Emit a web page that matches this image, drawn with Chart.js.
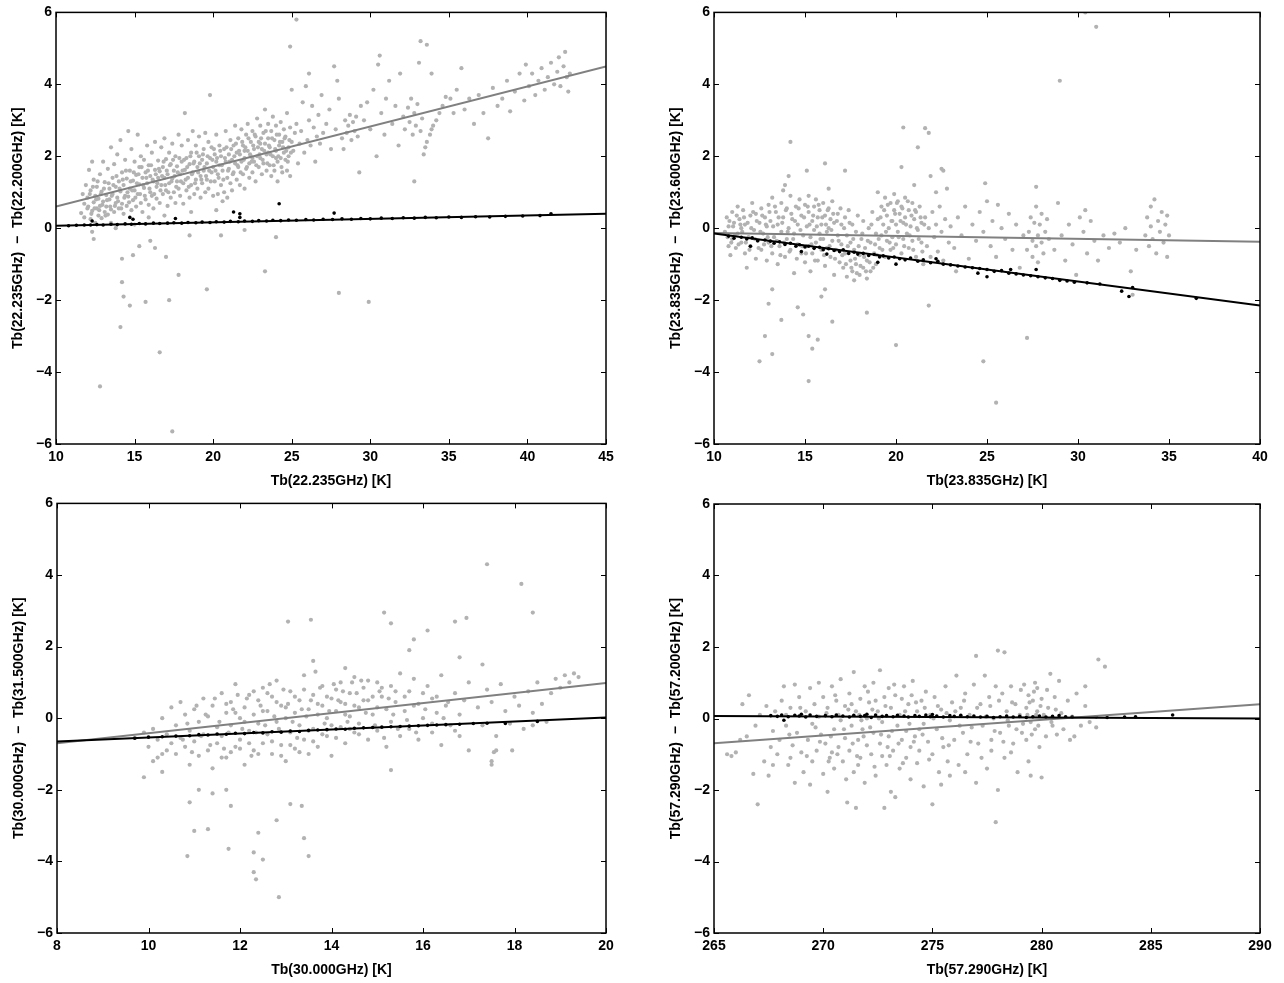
<!DOCTYPE html>
<html>
<head>
<meta charset="utf-8">
<script src="https://cdn.jsdelivr.net/npm/chart.js@4.4.1/dist/chart.umd.min.js"></script>
<style>
  html, body { margin: 0; padding: 0; background: #fff; }
  #wrap { position: relative; width: 1284px; height: 983px; }
  #wrap canvas { position: absolute; }
</style>
</head>
<body>
<div id="wrap">
  <canvas id="tl" width="642" height="492" style="left:0;top:0"></canvas>
  <canvas id="tr" width="642" height="492" style="left:642px;top:0"></canvas>
  <canvas id="bl" width="642" height="492" style="left:0;top:491px"></canvas>
  <canvas id="br" width="642" height="492" style="left:642px;top:491px"></canvas>
</div>
<script>
// ---- data ----
const yTicks = [-6, -4, -2, 0, 2, 4, 6];
const tlXTicks = [10, 15, 20, 25, 30, 35, 40, 45];
const trXTicks = [10, 15, 20, 25, 30, 35, 40];
const blXTicks = [8, 10, 12, 14, 16, 18, 20];
const brXTicks = [265, 270, 275, 280, 285, 290];

const tlXTitle = 'Tb(22.235GHz) [K]';
const tlYTitle = 'Tb(22.235GHz)  \u2212  Tb(22.200GHz) [K]';
const trXTitle = 'Tb(23.835GHz) [K]';
const trYTitle = 'Tb(23.835GHz)  \u2212  Tb(23.600GHz) [K]';
const blXTitle = 'Tb(30.000GHz) [K]';
const blYTitle = 'Tb(30.000GHz)  \u2212  Tb(31.500GHz) [K]';
const brXTitle = 'Tb(57.290GHz) [K]';
const brYTitle = 'Tb(57.290GHz)  \u2212  Tb(57.200GHz) [K]';

// fitted lines (end points)
const tlGrayFit = [[10, 0.6], [45, 4.5]];
const tlBlackFit = [[10, 0.07], [45, 0.4]];
const trGrayFit = [[10, -0.13], [40, -0.38]];
const trBlackFit = [[10, -0.15], [40, -2.15]];
const blGrayFit = [[8, -0.7], [20, 0.98]];
const blBlackFit = [[8, -0.65], [20, 0.02]];
const brGrayFit = [[265, -0.69], [290, 0.4]];
const brBlackFit = [[265, 0.07], [290, 0.0]];

const tlGray = [
[11.6,0.42],[11.7,0.95],[11.8,0.3],[11.9,1.2],[11.8,0.68],[12.0,0.55],[12.1,1.62],[12.0,0.85],[12.2,0.25],[12.2,1.05],[12.3,1.85],[12.3,0.48],[12.4,0.72],[12.4,1.35],[12.5,0.9],[12.5,0.15],[12.3,-0.1],[12.4,-0.3],
[12.6,0.55],[12.6,1.15],[12.7,0.35],[12.7,0.82],[12.8,1.5],[12.8,0.62],[12.9,0.28],[12.9,1.02],[13.0,0.74],[13.0,1.85],[13.1,0.45],[13.1,1.28],[13.2,0.92],[13.2,0.6],[13.3,1.65],[13.3,0.38],[13.4,1.1],[13.4,0.8],[13.5,2.25],[13.5,0.52],
[13.6,0.95],[13.6,1.4],[13.7,0.45],[13.7,1.78],[13.8,0.7],[13.8,1.15],[13.9,2.05],[13.9,0.85],[14.0,0.55],[14.0,1.3],[14.1,1.02],[14.1,2.45],[14.2,0.68],[14.2,1.55],[14.3,0.4],[14.3,1.2],[14.4,0.9],[14.4,1.9],[14.5,1.38],[14.5,0.62],[14.6,2.7],
[14.6,0.88],[14.7,1.6],[14.7,1.1],[14.8,0.5],[14.8,2.2],[14.9,1.32],[14.9,0.78],[15.0,1.85],[15.0,1.05],[15.1,0.6],[15.1,1.48],[15.2,2.6],[15.2,0.95],[15.3,1.22],[15.3,1.7],[15.4,0.7],[15.4,2.0],[15.5,1.4],[15.5,0.45],
[15.6,1.12],[15.6,1.9],[15.7,0.8],[15.7,1.55],[15.8,2.3],[15.8,1.25],[15.9,0.65],[15.9,1.75],[16.0,1.0],[16.0,1.45],[16.1,2.1],[16.1,0.9],[16.2,1.3],[16.2,0.55],[16.3,1.62],[16.3,2.4],[16.4,1.15],[16.4,0.82],[16.5,1.88],[16.5,1.4],
[16.6,0.7],[16.6,1.58],[16.7,2.25],[16.7,1.2],[16.8,0.95],[16.8,1.7],[16.9,1.4],[16.9,2.5],[17.0,1.05],[17.0,1.92],[17.1,0.62],[17.1,1.5],[17.2,1.25],[17.2,2.1],[17.3,0.85],[17.3,1.78],[17.4,1.38],[17.4,2.35],[17.5,1.6],[17.5,1.0],
[17.6,0.7],[17.6,2.0],[17.7,1.3],[17.7,1.72],[17.8,2.6],[17.8,1.1],[17.9,1.5],[17.9,0.9],[18.0,1.85],[18.0,2.3],[18.1,1.25],[18.1,0.68],[18.2,3.2],[18.2,1.62],[18.3,1.95],[18.3,1.05],[18.4,2.45],[18.4,1.4],[18.5,1.78],[18.5,0.85],
[18.6,1.2],[18.6,2.1],[18.7,1.55],[18.7,2.7],[18.8,0.95],[18.8,1.85],[18.9,1.35],[18.9,2.3],[19.0,1.7],[19.0,1.1],[19.1,2.0],[19.1,2.55],[19.2,1.45],[19.2,0.85],[19.3,1.9],[19.3,1.25],[19.4,2.2],[19.4,1.6],[19.5,1.0],[19.5,2.65],
[19.6,1.8],[19.6,1.35],[19.7,2.4],[19.7,1.1],[19.8,3.7],[19.8,1.95],[19.9,1.55],[19.9,2.25],[20.0,0.9],[20.0,1.7],[20.1,2.05],[20.1,1.3],[20.2,2.6],[20.2,1.85],[20.3,1.5],[20.3,0.95],[20.4,2.3],[20.4,1.75],[20.5,1.2],[20.5,2.0],
[20.6,0.75],[20.6,1.6],[20.7,2.2],[20.7,1.0],[20.8,1.85],[20.8,2.7],[20.9,1.4],[20.9,0.85],[21.0,2.05],[21.0,1.65],[21.1,1.25],[21.1,2.45],[21.2,1.9],[21.2,1.05],[21.3,2.3],[21.3,1.55],[21.4,1.8],[21.4,2.85],[21.5,1.35],[21.5,2.1],
[21.6,1.7],[21.6,2.5],[21.7,1.2],[21.7,2.05],[21.8,1.85],[21.8,2.75],[21.9,1.5],[21.9,2.3],[22.0,1.95],[22.0,1.1],[22.1,2.6],[22.1,1.65],[22.2,2.15],[22.2,2.9],[22.3,1.8],[22.3,1.4],[22.4,2.4],[22.4,2.0],[22.5,1.55],[22.5,2.7],
[22.6,2.2],[22.6,1.85],[22.7,2.55],[22.7,1.3],[22.8,2.0],[22.8,3.05],[22.9,1.7],[22.9,2.4],[23.0,2.85],[23.0,1.95],[23.1,2.2],[23.1,1.5],[23.2,2.65],[23.2,1.8],[23.3,2.35],[23.3,3.3],[23.4,2.05],[23.4,1.6],[23.5,2.5],[23.5,2.9],
[23.6,1.75],[23.6,2.25],[23.7,2.7],[23.7,1.45],[23.8,2.0],[23.8,3.1],[23.9,2.45],[23.9,1.6],[24.0,2.15],[24.0,2.85],[24.1,1.85],[24.1,1.3],[24.2,2.6],[24.2,2.3],[24.3,1.95],[24.3,2.95],[24.4,1.55],[24.4,2.4],[24.5,2.1],[24.5,2.75],
[24.6,1.9],[24.6,2.55],[24.7,1.6],[24.7,3.2],[24.8,2.25],[24.8,2.0],[24.9,2.8],[24.9,1.45],[25.0,2.4],[25.0,3.85],[25.1,2.15],[25.2,2.65],[25.3,2.9],[25.4,1.8],[25.5,2.35],
[25.6,2.7],[25.7,3.5],[25.8,2.1],[25.9,3.95],[26.0,2.45],[26.1,4.3],[26.1,3.0],[26.2,2.3],[26.3,3.4],[26.4,2.8],[26.5,1.85],[26.6,2.55],[26.7,3.15],[26.8,2.35],[26.9,3.7],[27.0,2.65],
[27.2,2.9],[27.4,3.3],[27.5,2.2],[27.7,4.5],[27.8,2.75],[28.0,3.6],[28.2,2.5],[28.4,3.0],[28.5,2.65],[28.6,2.85],[28.7,3.15],[28.8,2.45],[28.9,2.95],[29.0,2.7],[29.1,3.1],[29.2,2.55],[29.3,1.55],[29.4,3.4],[28.3,2.2],[27.9,4.1],
[29.6,3.0],[29.8,3.5],[30.0,2.75],[30.2,3.85],[30.4,2.0],[30.5,4.55],[30.7,3.2],[30.9,2.6],[31.0,3.6],[31.2,4.1],[31.4,2.9],[31.6,3.4],[31.8,2.3],[31.9,4.3],
[32.1,3.1],[32.2,2.75],[32.4,3.35],[32.5,2.95],[32.6,3.6],[32.7,2.6],[32.8,3.2],[32.9,2.85],[33.0,3.45],[33.1,4.6],[33.2,2.7],[33.3,3.05],[33.4,2.05],[33.5,2.25],[33.6,2.4],[33.8,2.6],[33.9,2.75],[34.0,2.85],[34.2,3.0],[34.4,3.2],[34.6,3.4],[34.8,3.65],[32.8,1.3],[33.9,4.3],
[35.1,3.6],[35.3,3.2],[35.5,3.85],[35.8,4.45],[36.0,3.3],[36.3,3.6],[36.6,2.9],[36.9,3.7],[37.2,3.2],[37.5,2.5],[37.8,3.9],[38.1,3.4],
[38.4,3.6],[38.7,4.1],[38.9,3.25],[39.2,3.8],[39.5,4.3],[39.8,3.55],[39.9,4.55],[40.1,3.95],[40.3,4.3],[40.5,3.7],
[40.7,4.1],[40.9,4.45],[41.1,3.85],[41.3,4.2],[41.5,4.6],[41.7,4.0],[41.9,4.35],[42.0,4.75],[42.1,3.95],[42.3,4.5],[42.4,4.9],[42.5,4.2],[42.6,3.8],[42.7,4.3],
[12.8,-4.4],[14.1,-2.75],[14.2,-1.5],[14.2,-0.85],[14.3,-1.9],[14.7,-2.15],[15.7,-2.05],[16.6,-3.45],[17.0,-0.8],[17.4,-5.65],[17.2,-2.0],[17.8,-1.3],[19.6,-1.7],[23.3,-1.2],[24.0,-0.25],[28.0,-1.8],[29.9,-2.05],
[25.3,5.8],[24.9,5.05],[33.2,5.2],[33.6,5.1],[30.6,4.8],[15.3,-0.5],[16.0,-0.35],[18.5,-0.2],[20.5,-0.2],[13.8,0.0],[15.0,0.1],[22.0,-0.05],[14.9,-0.75],[16.3,-0.55],
[13.5,0.15],[15.9,0.3],[16.9,0.35],[18.6,0.45],[20.2,0.5]
];
// extra points in the densest part of the cloud
const tlGrayDense = [
[12.05,0.6],[12.15,0.95],[12.25,0.4],[12.35,1.15],[12.45,0.55],[12.55,0.8],[12.65,1.3],[12.75,0.5],[12.85,0.95],[12.95,0.65],[13.05,1.1],[13.15,0.35],[13.25,0.78],[13.35,1.25],[13.45,0.6],[13.55,0.9],[13.65,1.2],[13.75,0.62],[13.85,1.45],[13.95,0.75],
[14.05,1.1],[14.15,0.55],[14.25,1.35],[14.35,0.85],[14.45,1.6],[14.55,1.0],[14.65,0.72],[14.75,1.3],[14.85,1.05],[14.95,1.55],[15.05,0.85],[15.15,1.25],[15.25,1.5],[15.35,0.95],[15.45,1.7],[15.55,1.2],[15.65,0.9],[15.75,1.4],[15.85,1.6],[15.95,1.1],
[16.05,1.75],[16.15,1.35],[16.25,0.95],[16.35,1.5],[16.45,1.25],[16.55,1.65],[16.65,1.05],[16.75,1.45],[16.85,1.85],[16.95,1.2],[17.05,1.6],[17.15,1.0],[17.25,1.75],[17.35,1.3],[17.45,1.9],[17.55,1.45],[17.65,1.15],[17.75,1.55],[17.85,1.95],[17.95,1.3],
[18.05,1.6],[18.15,1.9],[18.25,1.35],[18.35,1.7],[18.45,1.15],[18.55,2.0],[18.65,1.5],[18.75,1.8],[18.85,1.25],[18.95,2.1],[19.05,1.55],[19.15,1.8],[19.25,1.35],[19.35,2.05],[19.45,1.7],[19.55,1.45],[19.65,2.0],[19.75,1.6],[19.85,1.3],[19.95,1.9],
[20.05,2.2],[20.15,1.6],[20.25,1.95],[20.35,1.4],[20.45,2.15],[20.55,1.75],[20.65,1.35],[20.75,1.95],[20.85,2.25],[20.95,1.6],[21.05,1.85],[21.15,2.2],[21.25,1.5],[21.35,2.0],[21.45,2.35],[21.55,1.75],[21.65,2.15],[21.75,1.55],[21.85,2.4],[21.95,1.9],
[22.05,2.25],[22.15,1.7],[22.25,2.5],[22.35,2.05],[22.45,1.85],[22.55,2.3],[22.65,2.6],[22.75,1.75],[22.85,2.25],[22.95,2.05],[23.05,2.5],[23.15,1.9],[23.25,2.15],[23.35,2.7],[23.45,1.8],[23.55,2.3],[23.65,2.05],[23.75,2.5],[23.85,1.75],[23.95,2.2],
[24.05,2.6],[24.15,2.0],[24.25,2.4],[24.35,1.7],[24.45,2.25],[24.55,2.5],[24.65,2.15],[24.75,1.85],[24.85,2.45],[24.95,2.1],[22.5,1.95],[23.0,2.35],[23.5,2.1],[24.0,1.95],[22.0,2.15]
];
const tlBlack = [
[10.8,0.07],[11.3,0.08],[11.8,0.09],[12.2,0.09],[12.6,0.1],[13.0,0.09],[13.5,0.11],[13.9,0.1],[14.4,0.12],[14.8,0.11],[15.3,0.13],[15.7,0.12],[16.2,0.14],[16.6,0.13],[17.1,0.14],[17.5,0.15],[18.0,0.14],[18.4,0.16],[18.9,0.15],[19.3,0.17],[19.8,0.16],[20.2,0.18],[20.7,0.17],[21.1,0.19],[21.6,0.18],[22.0,0.2],[22.5,0.19],[22.9,0.21],[23.4,0.2],[23.8,0.22],[24.3,0.21],[24.8,0.23],[25.3,0.22],[25.9,0.24],[26.4,0.23],[27.0,0.25],[27.6,0.24],[28.2,0.26],[28.8,0.25],[29.4,0.27],[30.0,0.26],[30.7,0.28],[31.4,0.27],[32.1,0.29],[32.8,0.28],[33.5,0.3],[34.2,0.29],[35.0,0.31],[35.8,0.3],[36.7,0.32],[37.6,0.31],[38.6,0.33],[39.7,0.34],[40.8,0.35],[41.5,0.4],
[12.3,0.2],[14.7,0.3],[14.9,0.25],[17.6,0.27],[21.3,0.45],[21.7,0.4],[21.7,0.3],[24.2,0.68],[27.7,0.42]
];

const trGray = [
[10.6,-0.1],[10.7,0.3],[10.8,-0.5],[10.8,0.05],[10.9,-0.75],[11.0,0.45],[11.0,-0.3],[11.1,0.15],[11.2,-0.55],[11.3,0.6],[11.3,-0.15],[11.4,0.25],[11.5,-0.4],[11.5,0.0],
[11.6,0.5],[11.7,-0.7],[11.7,0.1],[11.8,-1.1],[11.9,-0.25],[12.0,0.35],[12.0,-0.5],[12.1,0.7],[12.2,-0.05],[12.3,-0.85],[12.3,0.4],[12.4,-0.35],[12.5,0.15],[12.6,-0.6],[12.6,0.55],[12.7,-0.15],[12.8,0.3],[12.9,-0.9],[12.9,0.05],[13.0,-0.4],[13.0,0.65],
[13.1,0.2],[13.2,-0.7],[13.2,0.85],[13.3,-0.25],[13.4,0.45],[13.5,-1.0],[13.5,0.1],[13.6,-0.5],[13.7,0.7],[13.7,-0.1],[13.8,1.05],[13.8,0.3],[13.9,-0.8],[14.0,-0.3],[14.0,0.55],[14.1,0.0],[14.2,-0.6],[14.2,0.9],[14.3,0.25],[14.4,-0.15],[14.4,-1.25],[14.5,0.6],[14.6,-0.45],[14.6,0.1],[14.7,0.8],[14.8,-0.7],[14.8,0.35],[14.9,-0.2],[15.0,0.65],[15.0,-0.95],
[15.1,0.05],[15.1,-0.5],[15.2,0.45],[15.2,0.9],[15.3,-0.25],[15.3,-1.2],[15.4,0.2],[15.4,-0.7],[15.5,0.6],[15.5,-0.05],[15.6,-0.4],[15.6,0.8],[15.7,0.3],[15.7,-0.9],[15.8,-0.15],[15.8,0.5],[15.9,-0.6],[15.9,0.1],[16.0,0.7],[16.0,-0.3],[16.1,-1.05],[16.1,0.35],[16.2,-0.1],[16.2,-0.55],[16.3,0.55],[16.3,0.0],[16.4,-0.8],[16.4,0.25],[16.5,-0.35],[16.5,0.75],[16.6,-1.3],[16.6,0.15],[16.7,-0.6],[16.8,0.4],[16.8,-0.2],[16.9,-0.95],[17.0,0.1],[17.0,-0.45],
[17.1,-1.1],[17.2,0.3],[17.2,-0.7],[17.3,-1.35],[17.3,-0.2],[17.4,0.5],[17.5,-0.9],[17.5,-0.4],[17.6,-1.2],[17.6,0.1],[17.7,-0.6],[17.7,-1.45],[17.8,-0.1],[17.8,-1.0],[17.9,0.35],[18.0,-0.75],[18.0,-1.3],[18.1,-0.3],[18.2,-1.1],[18.2,0.2],[18.3,-0.55],[18.4,-1.4],[18.4,-0.9],[18.5,0.0],[18.6,-0.4],[18.6,-1.2],[18.7,0.45],[18.8,-0.7],[18.9,-0.15],[18.9,-1.0],[19.0,0.25],
[19.1,-0.55],[19.2,0.6],[19.2,-0.2],[19.3,0.1],[19.4,-0.8],[19.4,0.85],[19.5,-0.35],[19.5,0.35],[19.6,0.0],[19.7,0.7],[19.7,-0.6],[19.8,0.2],[19.8,-0.25],[19.9,0.95],[19.9,0.5],[20.0,-0.45],[20.0,0.1],[20.1,0.75],[20.1,-0.1],[20.2,0.4],[20.3,-0.7],[20.3,0.6],[20.4,0.15],[20.4,-0.3],[20.5,0.85],[20.5,0.3],[20.6,-0.15],[20.7,0.5],[20.7,-0.55],[20.8,0.05],[20.9,0.7],[20.9,-0.35],[21.0,0.25],[21.1,-0.8],[21.1,0.45],[21.2,-0.05],[21.3,0.6],[21.4,-0.4],[21.4,0.15],[21.5,-1.0],
[21.6,0.3],[21.7,-0.5],[21.8,0.0],[21.8,-2.15],[21.9,-0.8],[22.0,0.45],[22.1,-0.25],[22.2,0.1],[22.3,-0.65],[22.4,0.6],[22.5,-0.1],[22.6,1.6],[22.6,-0.9],[22.7,0.25],[22.8,1.1],[22.9,-0.4],[23.0,0.05],[22.2,1.0],[21.9,1.45],
[23.2,-0.55],[23.4,0.3],[23.6,-0.2],[23.8,0.6],[24.0,-0.85],[24.2,0.1],[24.4,-0.35],[24.6,0.45],[24.8,-0.1],[25.0,0.75],[25.2,-0.5],[25.3,0.2],[25.5,-0.8],[25.6,0.65],[25.8,0.0],[26.0,-0.3],[26.2,0.4],[26.4,-0.6],[26.6,0.1],[26.8,-1.1],[27.0,-0.2],[24.9,1.25],[23.3,-1.2],
[27.2,-0.6],[27.3,-0.1],[27.4,0.3],[27.5,-0.8],[27.5,-0.35],[27.6,0.15],[27.7,-0.5],[27.7,0.6],[27.8,-0.2],[27.8,-0.95],[27.9,0.1],[28.0,-0.4],[28.0,0.4],[28.1,-0.7],[28.2,-0.1],[28.3,0.25],[27.7,1.15],[28.4,-0.3],
[28.7,-0.6],[28.9,0.7],[29.1,-0.2],[29.3,-0.9],[29.5,0.1],[29.7,-0.45],[29.9,-1.3],[30.1,0.3],[30.3,-0.1],[30.5,-0.7],[30.7,0.2],[30.9,-0.35],[31.1,-0.9],[31.4,-0.2],[31.7,-0.55],[32.0,-0.15],[32.3,-0.4],[32.6,0.0],[32.9,-1.2],[33.2,-0.6],[30.4,0.5],
[33.7,-0.2],[33.8,0.3],[33.9,-0.5],[34.0,0.6],[34.0,0.05],[34.1,-0.3],[34.2,0.8],[34.3,-0.7],[34.4,0.2],[34.5,-0.1],[34.6,0.45],[34.7,-0.4],[34.8,0.1],[34.9,0.35],[35.0,-0.2],[34.9,-0.8],
[13.0,-2.1],[13.2,-1.7],[12.8,-3.0],[12.5,-3.7],[13.2,-3.5],[13.7,-2.55],[14.2,2.4],[15.2,-3.0],[15.2,-4.25],[15.4,-3.35],[15.7,-3.1],[16.1,1.8],[16.5,-2.6],[17.2,1.6],[20.4,2.8],[21.6,2.78],[21.2,2.25],[21.8,2.65],[20.3,1.7],[20.0,-3.25],[22.5,1.65],[24.8,-3.7],[25.5,-4.85],[27.2,-3.05],[29.0,4.1],[30.4,6.0],[31.0,5.6],[33.0,-1.85],
[14.6,-2.2],[14.9,-2.4],[15.9,-1.9],[16.1,-1.7],[18.4,-2.35],[15.1,1.6],[14.1,1.45],[13.9,1.2],[16.3,1.1],[19.0,1.0],[21.0,1.2]
];
const trGrayDense = [
[10.75,-0.25],[10.85,0.2],[10.95,-0.4],[11.05,0.05],[11.15,-0.2],[11.25,0.35],[11.35,-0.45],[11.45,0.1],[11.55,-0.1],[11.65,0.3],[11.75,-0.4],[11.85,0.15],[11.95,-0.6],[12.05,0.0],[12.15,0.45],[12.25,-0.3],[12.35,0.2],[12.45,-0.55],[12.55,-0.1],[12.65,0.35],
[12.75,-0.45],[12.85,0.1],[12.95,-0.25],[13.05,0.45],[13.15,-0.5],[13.25,0.05],[13.35,0.6],[13.45,-0.35],[13.55,0.3],[13.65,-0.75],[13.75,0.15],[13.85,-0.4],[13.95,0.5],[14.05,-0.1],[14.15,-0.65],[14.25,0.4],[14.35,-0.3],[14.45,0.2],[14.55,-0.85],[14.65,0.55],
[14.75,-0.05],[14.85,-0.5],[14.95,0.3],[15.05,-0.7],[15.15,0.6],[15.25,0.1],[15.35,-0.45],[15.45,0.35],[15.55,-0.9],[15.65,0.05],[15.75,0.65],[15.85,-0.3],[15.95,0.3],[16.05,-0.75],[16.15,0.1],[16.25,0.5],[16.35,-0.5],[16.45,-0.05],[16.55,0.4],[16.65,-0.85],
[16.75,0.2],[16.85,-0.35],[16.95,0.55],[17.05,-0.75],[17.15,0.0],[17.25,-1.0],[17.35,-0.5],[17.45,0.15],[17.55,-1.1],[17.65,-0.3],[17.75,-0.85],[17.85,-1.25],[17.95,-0.5],[18.05,-1.05],[18.15,-0.15],[18.25,-0.8],[18.35,-1.2],[18.45,-0.35],[18.55,-0.95],[18.65,0.1],
[18.75,-1.1],[18.85,-0.45],[18.95,-0.75],[19.05,-0.3],[19.15,0.3],[19.25,-0.6],[19.35,0.5],[19.45,-0.1],[19.55,0.65],[19.65,-0.4],[19.75,0.2],[19.85,-0.55],[19.95,0.4],[20.05,0.7],[20.15,-0.25],[20.25,0.2],[20.35,0.55],[20.45,-0.5],[20.55,0.1],[20.65,0.75],
[20.75,-0.2],[20.85,0.35],[20.95,-0.6],[21.05,0.5],[21.15,0.0],[21.25,-0.3],[21.35,0.3],[21.45,-0.65],[21.55,0.1]
];
const trBlack = [
[10.8,-0.22],[11.1,-0.28],[11.5,-0.25],[11.8,-0.3],[12.1,-0.27],[12.4,-0.35],[12.8,-0.33],[13.1,-0.36],[13.3,-0.42],[13.6,-0.38],[13.9,-0.45],[14.2,-0.42],[14.5,-0.5],[14.7,-0.46],[15.0,-0.52],[15.2,-0.5],[15.5,-0.56],[15.8,-0.53],[16.0,-0.6],[16.3,-0.57],[16.6,-0.62],[16.9,-0.65],[17.1,-0.6],[17.4,-0.7],[17.7,-0.67],[17.9,-0.72],[18.2,-0.7],[18.5,-0.76],[18.8,-0.73],[19.1,-0.8],[19.3,-0.77],[19.6,-0.83],[19.9,-0.8],[20.2,-0.85],[20.5,-0.88],[20.8,-0.83],[21.2,-0.92],[21.5,-0.88],[21.9,-0.96],[22.3,-0.92],[22.6,-1.0],[23.0,-1.02],[23.4,-1.05],[23.8,-1.08],[24.2,-1.1],[24.6,-1.12],[25.0,-1.15],[25.4,-1.2],[25.8,-1.18],[26.2,-1.25],[26.6,-1.27],[27.0,-1.3],[27.4,-1.32],[27.8,-1.35],[28.2,-1.38],[28.6,-1.4],[29.0,-1.45],[29.4,-1.47],[29.8,-1.5],[30.5,-1.52],[31.2,-1.55],[32.4,-1.75],[32.8,-1.9],[33.0,-1.65],[36.5,-1.95],
[12.0,-0.5],[14.8,-0.65],[16.2,-0.72],[19.0,-0.95],[20.0,-1.0],[22.2,-0.85],[24.5,-1.25],[25.0,-1.35],[26.3,-1.15],[27.7,-1.15]
];

const blGray = [
[9.7,-0.55],[9.9,-0.4],[10.0,-0.8],[10.1,-0.3],[10.2,-1.1],[10.2,-0.6],[10.3,0.0],[10.4,-0.9],[10.4,-0.45],[10.5,0.3],[10.5,-0.7],[10.1,-1.2],[10.3,-1.0],
[10.6,-0.2],[10.6,-1.0],[10.7,0.45],[10.7,-0.55],[10.8,-0.8],[10.8,0.1],[10.9,-1.3],[10.9,-0.35],[11.0,0.25],[11.0,-0.65],[11.1,-1.05],[11.1,-0.1],[11.2,0.55],[11.2,-0.45],[11.3,-0.9],[11.3,0.05],[11.4,-1.4],[11.4,0.35],[11.5,-0.25],[11.5,-0.7],
[11.6,0.7],[11.6,-0.5],[11.7,0.15],[11.7,-1.1],[11.8,-0.2],[11.8,0.45],[11.9,-0.8],[11.9,0.95],[12.0,0.0],[12.0,-0.6],[12.1,0.3],[12.1,-1.3],[12.2,0.65],[12.2,-0.35],[12.3,-0.9],[12.3,0.1],[12.4,0.5],[12.4,-0.15],[12.5,-0.7],[12.5,0.85],[11.65,-0.85],[11.85,0.25],[12.05,-0.3],[12.25,-1.05],[12.45,0.35],
[12.6,0.2],[12.6,-0.45],[12.7,-1.0],[12.7,0.6],[12.8,-0.1],[12.8,1.05],[12.9,-0.75],[12.9,0.35],[13.0,0.0],[13.0,-1.2],[13.1,0.75],[13.1,-0.4],[13.2,0.15],[13.2,-0.85],[13.3,0.5],[13.3,-0.2],[13.4,1.2],[13.4,-0.6],[13.5,0.25],[13.5,-1.0],[12.65,0.95],[12.85,-0.3],[13.05,0.4],[13.25,-0.55],[13.45,0.05],
[13.6,0.65],[13.6,-0.3],[13.7,0.1],[13.7,-0.8],[13.8,0.9],[13.8,0.35],[13.9,-0.5],[13.9,0.0],[14.0,0.55],[14.0,-1.05],[14.1,0.2],[14.1,0.8],[14.2,-0.25],[14.2,1.0],[14.3,0.4],[14.3,-0.7],[14.4,0.05],[14.4,0.7],[14.5,-0.4],[14.5,1.15],[13.65,1.3],[13.85,-0.15],[14.15,0.5],[14.35,-0.1],
[14.6,0.3],[14.6,-0.15],[14.7,0.85],[14.8,-0.6],[14.8,0.5],[14.9,0.1],[15.0,1.0],[15.0,-0.35],[15.1,0.6],[15.2,-0.8],[15.2,0.25],[15.3,0.9],[15.3,-0.1],[15.4,0.45],[15.5,-0.5],[15.5,1.25],[14.65,1.05],[15.05,0.75],
[15.6,0.2],[15.7,-0.3],[15.7,0.75],[15.8,1.1],[15.9,-0.6],[15.9,0.4],[16.0,0.0],[16.1,0.9],[16.2,-0.4],[16.2,0.55],[16.3,0.15],[16.4,-0.75],[16.4,1.2],[16.5,0.35],[16.6,-0.2],[16.7,0.7],[16.8,-0.5],[16.8,0.1],[16.9,0.5],[17.0,-0.9],[17.0,1.0],
[17.2,0.3],[17.3,-0.2],[17.4,0.8],[17.5,0.45],[17.6,-0.5],[17.7,0.95],[17.8,0.2],[17.9,-0.15],[18.0,0.6],[18.1,0.35],[18.2,-0.3],[18.3,0.75],[18.4,0.15],[18.5,1.0],[18.6,0.4],[18.7,-0.1],[18.8,0.7],[18.9,1.1],[19.0,0.85],[19.1,1.2],[19.2,1.0],[19.3,1.25],[19.4,1.15],[17.5,-1.2],[17.55,-0.95],[17.95,-0.9],[18.4,-0.2],
[9.9,-1.65],[10.3,-1.5],[10.9,-2.35],[10.85,-3.85],[11.0,-3.15],[11.3,-3.1],[11.1,-2.0],[11.4,-2.1],[11.7,-2.0],[11.75,-3.65],[11.8,-2.45],[12.3,-3.75],[12.3,-4.3],[12.35,-4.5],[12.5,-3.95],[12.4,-3.2],[12.8,-2.85],[12.85,-5.0],[13.4,-3.35],[13.5,-3.85],[13.35,-2.45],[13.1,-2.4],
[13.05,2.7],[13.55,2.75],[15.15,2.95],[15.3,2.65],[15.8,2.2],[16.1,2.45],[16.7,2.7],[16.95,2.8],[17.4,4.3],[18.15,3.75],[18.4,2.95],[15.7,1.9],[15.3,-1.45],[17.5,-1.3],[17.6,-0.9],[17.3,1.5],[16.8,1.7],[14.3,1.4],[13.6,1.6]
];
const blGrayDense = [
[10.75,-0.6],[10.85,-0.15],[10.95,-0.95],[11.05,0.35],[11.15,-0.5],[11.25,0.1],[11.35,-0.75],[11.45,0.55],[11.55,-0.1],[11.6,-1.1],[11.7,0.4],[11.75,-0.4],[11.8,-0.95],[11.9,0.15],[11.95,0.65],[12.0,-0.85],[12.1,-0.1],[12.15,0.55],[12.2,-0.7],[12.3,0.75],
[12.35,-0.4],[12.4,-1.0],[12.5,0.2],[12.55,-0.2],[12.6,0.7],[12.7,-0.65],[12.75,0.05],[12.8,0.45],[12.9,-1.05],[12.95,0.8],[13.0,0.3],[13.1,-0.75],[13.15,-0.1],[13.2,0.6],[13.3,-0.95],[13.35,0.25],[13.4,0.8],[13.5,-0.35],[13.55,0.5],[13.6,-0.65],
[13.7,0.4],[13.75,0.85],[13.8,-0.45],[13.9,0.6],[13.95,0.2],[14.0,-0.2],[14.05,0.95],[14.1,-0.55],[14.2,0.45],[14.25,0.75],[14.3,0.1],[14.4,-0.3],[14.45,1.0],[14.5,0.35],[14.55,0.7],[14.6,-0.45],[14.7,0.5],[14.75,0.15],[14.8,1.05],[14.9,0.6],
[14.95,-0.2],[15.0,0.3],[15.1,0.85],[15.15,-0.55],[15.25,0.55],[15.35,0.1],[15.4,0.75],[15.45,-0.3],[15.6,0.6],[15.65,-0.05],[15.8,0.35],[15.85,-0.4],[16.0,0.7],[16.05,0.25],[16.2,-0.15],[16.3,0.6],[16.45,0.0],[16.55,0.45],[16.7,-0.35]
];
const blBlack = [
[9.7,-0.56],[10.0,-0.53],[10.3,-0.52],[10.6,-0.5],[10.9,-0.49],[11.1,-0.46],[11.3,-0.47],[11.5,-0.44],[11.7,-0.45],[11.9,-0.42],[12.1,-0.43],[12.3,-0.4],[12.5,-0.41],[12.7,-0.38],[12.9,-0.39],[13.1,-0.36],[13.3,-0.37],[13.5,-0.34],[13.7,-0.33],[13.9,-0.32],[14.1,-0.3],[14.3,-0.31],[14.5,-0.28],[14.7,-0.27],[14.9,-0.26],[15.1,-0.25],[15.3,-0.24],[15.5,-0.23],[15.7,-0.22],[15.9,-0.21],[16.1,-0.2],[16.3,-0.19],[16.5,-0.18],[16.8,-0.17],[17.1,-0.15],[17.4,-0.14],[17.8,-0.15],[18.5,-0.09]
];

const brGray = [
[265.6,-1.0],[265.8,-1.05],[266.0,-0.95],[266.2,-0.6],[266.3,0.4],[266.5,-0.5],[266.6,0.65],[266.8,-1.55],[267.0,-2.4],[266.9,-0.2],[267.1,0.1],[267.3,-1.2],[267.4,0.35],
[267.5,-1.6],[267.6,-0.8],[267.7,-0.35],[267.8,0.2],[267.9,-1.0],[268.0,-0.6],[268.1,0.5],[267.7,-1.3],
[268.2,0.9],[268.3,-0.2],[268.4,-1.3],[268.5,0.3],[268.6,-0.75],[268.7,-1.8],[268.8,-0.4],[268.9,0.6],[268.5,-1.1],[268.7,0.95],[269.0,-0.95],[268.3,0.1],
[269.1,-1.5],[269.2,0.2],[269.3,-0.6],[269.4,0.85],[269.5,-1.2],[269.5,-0.15],[269.6,0.4],[269.7,-0.9],[269.8,1.0],[269.9,-0.45],[270.0,-1.55],[269.4,-1.85],[269.8,0.05],[270.0,0.6],
[270.1,-0.7],[270.2,-2.05],[270.2,0.3],[270.3,-1.1],[270.4,0.9],[270.5,-0.3],[270.5,-1.4],[270.6,0.5],[270.7,-0.8],[270.8,1.1],[270.8,-0.05],[270.9,-1.2],[271.0,0.35],[271.0,-0.55],[270.4,-0.95],[270.7,0.1],
[271.1,-2.35],[271.2,0.7],[271.2,-0.9],[271.3,-0.2],[271.4,1.3],[271.4,-1.5],[271.5,0.2],[271.5,-2.5],[271.6,-0.6],[271.7,0.55],[271.7,-1.1],[271.8,-0.3],[271.9,0.9],[271.9,-1.8],[272.0,0.0],[272.0,-0.75],[271.3,0.4],[271.6,-1.3],
[272.1,0.45],[272.2,-1.0],[272.3,1.0],[272.3,-0.4],[272.4,-1.6],[272.5,0.2],[272.6,-0.7],[272.6,1.35],[272.7,-0.1],[272.8,-2.5],[272.8,0.6],[272.9,-1.3],[273.0,-0.5],[273.0,0.85],[272.4,0.5],[272.7,-1.05],
[273.1,-2.05],[273.1,0.3],[273.2,-0.9],[273.3,-2.2],[273.3,0.65],[273.4,-0.2],[273.5,-1.4],[273.5,0.1],[273.6,-0.6],[273.7,0.9],[273.8,-1.1],[273.8,-0.35],[273.9,0.4],[274.0,-0.8],[274.0,-1.7],[273.6,0.55],
[274.1,1.05],[274.2,-0.5],[274.3,0.2],[274.3,-1.25],[274.4,-0.9],[274.5,0.5],[274.6,-1.9],[274.6,-0.15],[274.7,0.75],[274.8,-0.65],[274.9,0.1],[275.0,-2.4],[275.0,-1.0],[274.4,-0.3],
[275.1,0.6],[275.2,-0.3],[275.3,-1.5],[275.4,0.25],[275.5,-0.8],[275.6,0.9],[275.7,-1.2],[275.8,-0.05],[275.9,0.45],[276.0,-0.6],[275.4,-1.85],[275.8,-1.6],
[276.1,1.2],[276.2,-1.3],[276.3,0.3],[276.4,-0.4],[276.5,0.7],[276.6,-1.0],[276.7,0.1],[276.8,-0.25],[276.9,0.95],[277.0,1.75],[277.0,-1.8],[276.5,-1.5],
[277.1,-0.7],[277.2,0.4],[277.3,-0.2],[277.4,1.2],[277.5,-1.4],[277.6,0.6],[277.7,-0.9],[277.8,0.0],[277.9,-2.9],[278.0,1.9],[278.0,-2.0],[277.7,-0.6],[277.9,0.9],
[278.1,-0.4],[278.2,0.7],[278.3,1.85],[278.3,-1.1],[278.4,0.2],[278.5,-0.2],[278.6,0.9],[278.7,-0.7],[278.8,0.4],[278.9,-1.5],[279.0,0.1],[278.6,-0.95],
[279.1,-0.4],[279.2,0.95],[279.3,0.3],[279.3,-0.6],[279.4,0.65],[279.5,-0.1],[279.5,-1.6],[279.6,0.5],[279.7,-0.3],[279.8,0.85],[279.8,0.2],[279.9,-0.8],[280.0,0.55],[280.0,-1.65],[279.7,1.0],[279.4,-1.2],
[280.1,0.1],[280.2,-0.5],[280.3,0.3],[280.4,1.25],[280.5,-0.2],[280.6,0.6],[280.7,-0.45],[280.8,1.05],[280.9,0.15],[281.0,-0.3],
[281.2,0.5],[281.3,-0.6],[281.4,0.05],[281.6,0.7],[281.8,-0.2],[282.0,0.9],[282.0,0.35],[282.2,-0.1],[282.5,-0.25],[282.6,1.65],[282.9,1.45],[281.5,-0.5]
];
const brGrayDense = [
[268.45,-0.45],[268.95,0.3],[269.25,-1.05],[269.65,-0.25],[270.15,0.15],[270.35,-0.5],[270.55,0.65],[270.65,-1.0],[270.95,-0.3],[271.15,0.25],[271.35,-0.7],[271.55,-1.05],[271.65,0.1],[271.85,-0.5],[272.05,0.75],[272.15,-0.25],[272.35,-1.35],[272.55,0.0],[272.65,-0.45],[272.85,0.35],
[272.95,-0.8],[273.15,-0.35],[273.25,0.95],[273.45,-0.7],[273.65,-1.25],[273.75,0.2],[273.95,-0.15],[274.15,-0.65],[274.25,0.45],[274.55,-0.45],[274.65,0.3],[274.85,-1.15],[275.05,0.0],[275.25,0.35],[275.45,-0.55],[275.65,0.15],[275.75,-0.75],[276.05,0.2],[276.25,-0.2],[276.45,0.5],
[276.75,-0.65],[277.05,0.3],[277.25,-1.1],[277.45,0.05],[277.65,0.35],[277.85,-0.35],[278.05,0.5],[278.25,-0.65],[278.45,-0.05],[278.65,0.45],[278.85,-0.3],[279.05,0.8],[279.15,-0.15],[279.35,0.1],[279.45,0.45],[279.55,-0.45],[279.65,0.75],[279.75,0.1],[279.85,-0.2],[279.95,0.35],
[280.25,0.8],[280.45,-0.1],[280.65,0.25],[269.85,-0.65],[270.25,-1.2],[271.05,-1.7],[271.75,-0.05],[272.25,0.25],[273.05,-1.05],[274.05,0.65]
];
const brBlack = [
[267.6,0.08],[267.9,0.06],[268.1,0.1],[268.4,0.05],[268.7,0.09],[268.9,0.07],[269.2,0.04],[269.4,0.1],[269.7,0.06],[270.1,0.08],[270.4,0.05],[270.6,0.1],[270.9,0.07],[271.2,0.04],[271.4,0.09],[271.7,0.06],[271.9,0.08],[272.2,0.03],[272.4,0.1],[272.7,0.06],[272.9,0.08],[273.2,0.05],[273.4,0.09],[273.7,0.07],[273.9,0.04],[274.2,0.08],[274.4,0.06],[274.7,0.1],[274.9,0.05],[275.2,0.07],[275.5,0.04],[275.8,0.08],[276.0,0.06],[276.3,0.09],[276.6,0.05],[276.9,0.07],[277.2,0.04],[277.5,0.06],[277.8,0.03],[278.1,0.05],[278.4,0.07],[278.7,0.04],[279.0,0.06],[279.3,0.03],[279.6,0.05],[279.9,0.07],[280.2,0.04],[280.5,0.06],[280.8,0.08],[281.1,0.05],[281.4,0.04],
[282.5,0.05],[283.0,0.03],[283.8,0.04],[284.3,0.05],[286.0,0.1],[268.2,-0.05],[269.0,0.12],[272.0,0.12],[275.0,0.11]
];

// ---- drawing ----
const FONT = "'Liberation Sans', Arial, Helvetica, sans-serif";

// box round the plot with inward ticks on all four sides
const frameTicks = {
  id: 'frameTicks',
  afterDatasetsDraw(chart) {
    const ctx = chart.ctx;
    const a = chart.chartArea;
    const xs = chart.scales.x, ys = chart.scales.y;
    const tl = 5;
    ctx.save();
    ctx.strokeStyle = '#000';
    ctx.lineWidth = 1;
    ctx.beginPath();
    xs.ticks.forEach(function(t) {
      const px = Math.round(xs.getPixelForValue(t.value)) + 0.5;
      ctx.moveTo(px, a.bottom); ctx.lineTo(px, a.bottom - tl);
      ctx.moveTo(px, a.top); ctx.lineTo(px, a.top + tl);
    });
    ys.ticks.forEach(function(t) {
      const py = Math.round(ys.getPixelForValue(t.value)) + 0.5;
      ctx.moveTo(a.left, py); ctx.lineTo(a.left + tl, py);
      ctx.moveTo(a.right, py); ctx.lineTo(a.right - tl, py);
    });
    ctx.stroke();
    ctx.lineWidth = 1.5;
    ctx.strokeRect(a.left, a.top, a.right - a.left, a.bottom - a.top);
    ctx.restore();
  }
};

function fmt(v) {
  return v < 0 ? '\u2212' + Math.abs(v) : String(v);
}

function toXY(pts) {
  return pts.map(function(p) { return {x: p[0], y: p[1]}; });
}

function makePanel(id, box, gray, black, grayFit, blackFit, xTicks, xTitle, yTitle) {
  const canvas = document.getElementById(id);
  const H = canvas.height, W = canvas.width;
  return new Chart(canvas, {
    type: 'scatter',
    data: {
      datasets: [
        { data: toXY(blackFit), showLine: true, borderColor: '#000', borderWidth: 2,
          pointRadius: 0, order: 0 },
        { data: toXY(grayFit), showLine: true, borderColor: '#808080', borderWidth: 2,
          pointRadius: 0, order: 1 },
        { data: toXY(black), backgroundColor: '#000', pointRadius: 1.8,
          pointBorderWidth: 0, order: 2 },
        { data: toXY(gray), backgroundColor: '#b2b2b2', pointRadius: 2.1,
          pointBorderWidth: 0, order: 3 }
      ]
    },
    options: {
      responsive: false,
      animation: false,
      events: [],
      layout: {
        padding: { left: box.l - 56, top: box.t, right: W - box.r, bottom: H - box.b - 48 }
      },
      plugins: { legend: { display: false }, tooltip: { enabled: false } },
      scales: {
        x: {
          type: 'linear',
          min: xTicks[0],
          max: xTicks[xTicks.length - 1],
          afterBuildTicks: function(s) { s.ticks = xTicks.map(function(v) { return {value: v}; }); },
          afterFit: function(s) { s.height = 48; },
          grid: { display: false, drawTicks: false },
          border: { display: false },
          ticks: { color: '#000', padding: 5, autoSkip: false, maxRotation: 0,
                   font: { family: FONT, size: 14, weight: 'bold' }, callback: fmt },
          title: { display: true, text: xTitle, color: '#000', padding: { top: 0, bottom: 2 },
                   font: { family: FONT, size: 14, weight: 'bold' } }
        },
        y: {
          type: 'linear',
          min: yTicks[0],
          max: yTicks[yTicks.length - 1],
          afterBuildTicks: function(s) { s.ticks = yTicks.map(function(v) { return {value: v}; }); },
          afterFit: function(s) { s.width = 56; },
          grid: { display: false, drawTicks: false },
          border: { display: false },
          ticks: { color: '#000', padding: 4, autoSkip: false,
                   font: { family: FONT, size: 14, weight: 'bold' }, callback: fmt },
          title: { display: true, text: yTitle, color: '#000', padding: { top: 10, bottom: 0 },
                   font: { family: FONT, size: 14, weight: 'bold' } }
        }
      }
    },
    plugins: [frameTicks]
  });
}

makePanel('tl', {l: 56, t: 11, r: 606, b: 444}, tlGray.concat(tlGrayDense), tlBlack, tlGrayFit, tlBlackFit, tlXTicks, tlXTitle, tlYTitle);
makePanel('tr', {l: 72, t: 11, r: 618, b: 444}, trGray.concat(trGrayDense), trBlack, trGrayFit, trBlackFit, trXTicks, trXTitle, trYTitle);
makePanel('bl', {l: 57, t: 10, r: 606, b: 442}, blGray.concat(blGrayDense), blBlack, blGrayFit, blBlackFit, blXTicks, blXTitle, blYTitle);
makePanel('br', {l: 72, t: 13, r: 618, b: 442}, brGray.concat(brGrayDense), brBlack, brGrayFit, brBlackFit, brXTicks, brXTitle, brYTitle);
</script>
</body>
</html>
